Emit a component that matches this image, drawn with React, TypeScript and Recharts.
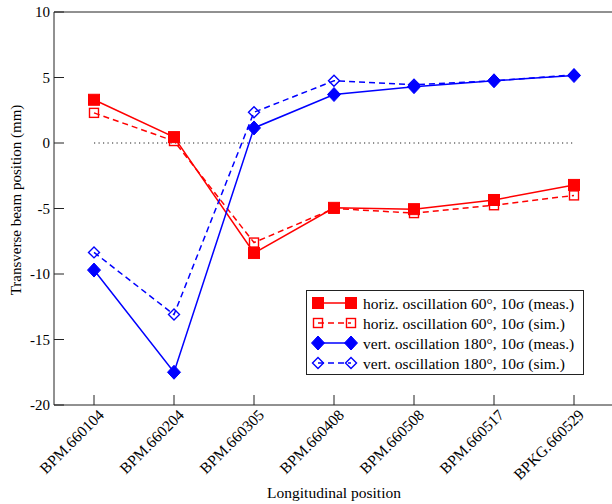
import { LineChart, Line, XAxis, YAxis, Legend } from 'recharts';

const bpmNames = ['BPM.660104', 'BPM.660204', 'BPM.660305', 'BPM.660408', 'BPM.660508', 'BPM.660517', 'BPKG.660529'];
const horizMeas = [3.3, 0.45, -8.4, -4.95, -5.05, -4.35, -3.2];
const horizSim = [2.3, 0.15, -7.6, -5.0, -5.35, -4.75, -4.0];
const vertMeas = [-9.7, -17.5, 1.15, 3.7, 4.3, 4.75, 5.15];
const vertSim = [-8.35, -13.1, 2.35, 4.75, 4.45, 4.75, 5.2];
const yTicks = [-20, -15, -10, -5, 0, 5, 10];

const FONT = '"Liberation Serif", "Times New Roman", serif';
const RED = '#ff0000';
const BLUE = '#0000ff';
const AXIS = '#222';

const data = bpmNames.map((name, i) => ({
  pos: i + 1,
  name,
  hm: horizMeas[i],
  hs: horizSim[i],
  vm: vertMeas[i],
  vs: vertSim[i],
  zero: 0,
}));

const legendItems = [
  { label: 'horiz. oscillation 60°, 10σ (meas.)', color: RED, dash: undefined, shape: 'squareFill' },
  { label: 'horiz. oscillation 60°, 10σ (sim.)', color: RED, dash: '6 4', shape: 'squareOpen' },
  { label: 'vert. oscillation 180°, 10σ (meas.)', color: BLUE, dash: undefined, shape: 'diamondFill' },
  { label: 'vert. oscillation 180°, 10σ (sim.)', color: BLUE, dash: '6 4', shape: 'diamondOpen' },
];

function Marker({ cx, cy, shape, color }: { cx: number; cy: number; shape: string; color: string }) {
  if (cx == null || cy == null) return null;
  switch (shape) {
    case 'squareFill':
      return <rect x={cx - 5.5} y={cy - 5.5} width={11} height={11} fill={color} stroke={color} />;
    case 'squareOpen':
      return <rect x={cx - 4.5} y={cy - 4.5} width={9} height={9} fill="none" stroke={color} strokeWidth={1.4} />;
    case 'diamondFill':
      return <polygon points={`${cx},${cy - 7} ${cx + 6.5},${cy} ${cx},${cy + 7} ${cx - 6.5},${cy}`} fill={color} stroke={color} />;
    default:
      return <polygon points={`${cx},${cy - 5.5} ${cx + 5.5},${cy} ${cx},${cy + 5.5} ${cx - 5.5},${cy}`} fill="none" stroke={color} strokeWidth={1.4} />;
  }
}

const dotFor = (shape: string, color: string) => (props: any) => (
  <Marker key={`${shape}-${props.index}`} cx={props.cx} cy={props.cy} shape={shape} color={color} />
);

function XTick({ x, y, payload }: any) {
  const name = bpmNames[payload.value - 1] ?? '';
  const tx = x + 7;
  const ty = y - 3;
  return (
    <text
      x={tx}
      y={ty}
      transform={`rotate(-45, ${tx}, ${ty})`}
      textAnchor="end"
      dominantBaseline="central"
      fontFamily={FONT}
      fontSize={15.5}
      fill="#000"
    >
      {name}
    </text>
  );
}

function YTick({ x, y, payload }: any) {
  return (
    <text x={x} y={y} textAnchor="end" dominantBaseline="central" fontFamily={FONT} fontSize={15} fill="#000">
      {payload.value}
    </text>
  );
}

function YLabel() {
  return (
    <text
      x={16}
      y={200}
      transform="rotate(-90, 16, 200)"
      textAnchor="middle"
      dominantBaseline="central"
      fontFamily={FONT}
      fontSize={15}
      fill="#000"
    >
      Transverse beam position (mm)
    </text>
  );
}

function LegendBox() {
  const rows = [13, 33, 53, 73];
  return (
    <svg width={278} height={85} style={{ display: 'block' }}>
      <rect x={0.5} y={0.5} width={277} height={84} fill="#fff" stroke={AXIS} strokeWidth={1} />
      {legendItems.map((it, i) => (
        <g key={it.label}>
          <line x1={12} x2={45} y1={rows[i]} y2={rows[i]} stroke={it.color} strokeWidth={1.5} strokeDasharray={it.dash} />
          <Marker cx={12} cy={rows[i]} shape={it.shape} color={it.color} />
          <Marker cx={45} cy={rows[i]} shape={it.shape} color={it.color} />
          <text x={57} y={rows[i]} dominantBaseline="central" fontFamily={FONT} fontSize={15.5} fill="#000">
            {it.label}
          </text>
        </g>
      ))}
    </svg>
  );
}

export default function App() {
  return (
    <div style={{ position: 'absolute', left: 0, top: 0, width: 612, height: 504, overflow: 'hidden', background: '#fff' }}>
      <LineChart width={616} height={504} data={data} margin={{ top: 11, right: 1, bottom: 0, left: 0 }}>
        <XAxis
          dataKey="pos"
          type="number"
          domain={[0.5, 7.5]}
          ticks={[1, 2, 3, 4, 5, 6, 7]}
          height={99}
          tickSize={-10}
          tickMargin={20}
          stroke={AXIS}
          tick={<XTick />}
          label={{ value: 'Longitudinal position', position: 'insideBottom', offset: 6, fontFamily: FONT, fontSize: 15.5, fill: '#000' }}
        />
        <XAxis
          xAxisId="top"
          orientation="top"
          dataKey="pos"
          type="number"
          domain={[0.5, 7.5]}
          ticks={[1, 2, 3, 4, 5, 6, 7]}
          height={1}
          tickSize={-10}
          stroke={AXIS}
          tick={false}
        />
        <YAxis
          type="number"
          domain={[-20, 10]}
          ticks={yTicks}
          width={54}
          tickSize={-10}
          tickMargin={14}
          stroke={AXIS}
          tick={<YTick />}
          label={<YLabel />}
        />
        <YAxis
          yAxisId="right"
          orientation="right"
          type="number"
          domain={[-20, 10]}
          ticks={yTicks}
          width={1}
          tickSize={-10}
          stroke={AXIS}
          tick={false}
        />
        <Legend
          verticalAlign="middle"
          align="center"
          layout="horizontal"
          wrapperStyle={{ left: 306, top: 290, width: 278, height: 85 }}
          content={() => <LegendBox />}
        />
        <Line dataKey="zero" stroke="#222" strokeWidth={1.2} strokeDasharray="1.2 3.3" dot={false} isAnimationActive={false} legendType="none" />
        <Line dataKey="hm" stroke={RED} strokeWidth={1.5} dot={dotFor('squareFill', RED)} isAnimationActive={false} />
        <Line dataKey="hs" stroke={RED} strokeWidth={1.5} strokeDasharray="6 4" dot={dotFor('squareOpen', RED)} isAnimationActive={false} />
        <Line dataKey="vm" stroke={BLUE} strokeWidth={1.5} dot={dotFor('diamondFill', BLUE)} isAnimationActive={false} />
        <Line dataKey="vs" stroke={BLUE} strokeWidth={1.5} strokeDasharray="6 4" dot={dotFor('diamondOpen', BLUE)} isAnimationActive={false} />
      </LineChart>
    </div>
  );
}
